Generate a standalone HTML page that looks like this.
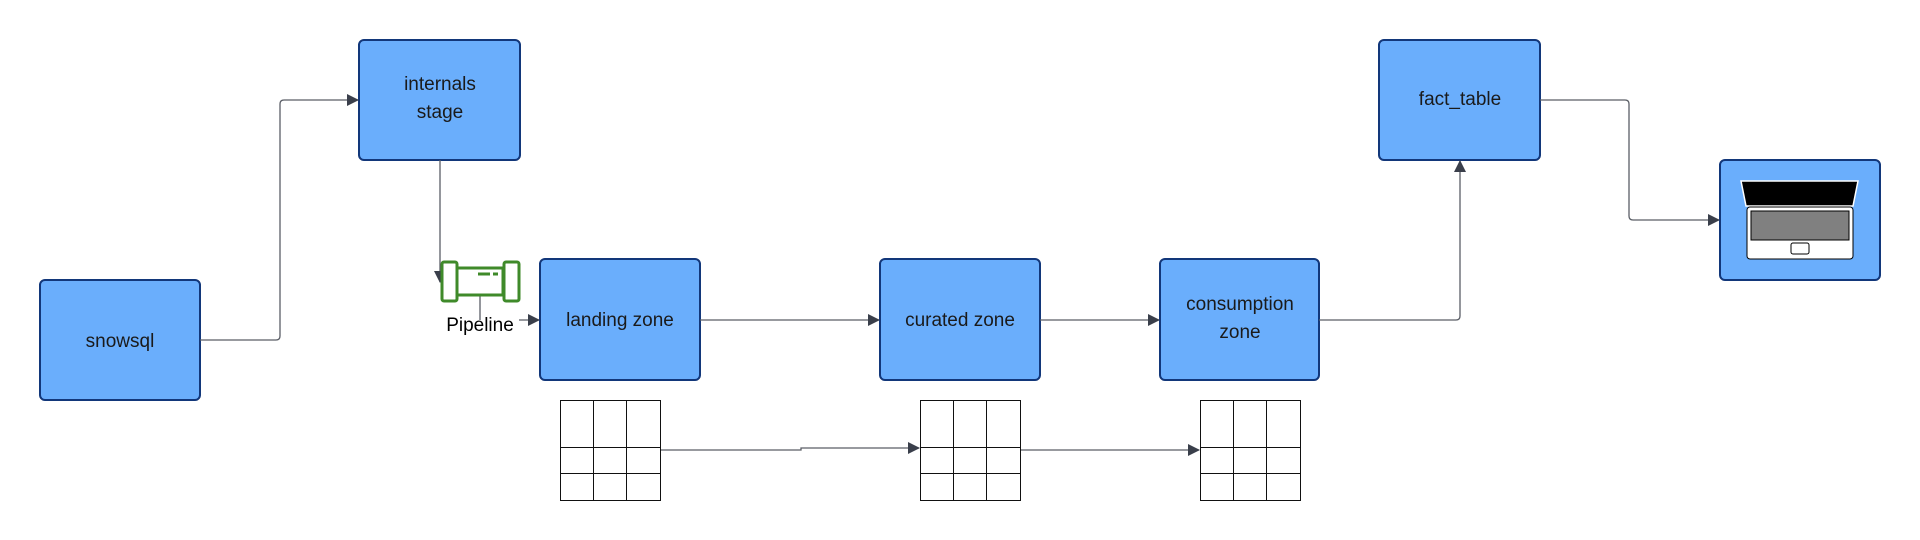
<!DOCTYPE html>
<html><head><meta charset="utf-8"><style>
html,body{margin:0;padding:0;background:#fff;}
svg{display:block;}
text{font-family:"Liberation Sans",sans-serif;font-size:19px;fill:#1a1a1a;}
</style></head><body>
<svg width="1920" height="540" viewBox="0 0 1920 540">
<defs>
<marker id="a" markerWidth="12" markerHeight="12" refX="11" refY="6" orient="auto" markerUnits="userSpaceOnUse">
<path d="M0,0 L12,6 L0,12 z" fill="#3a3f4b"/></marker>
</defs>
<g fill="#6aaefc" stroke="#12377a" stroke-width="2">
<rect x="40" y="280" width="160" height="120" rx="5"/>
<rect x="359" y="40" width="161" height="120" rx="5"/>
<rect x="540" y="259" width="160" height="121" rx="5"/>
<rect x="880" y="259" width="160" height="121" rx="5"/>
<rect x="1160" y="259" width="159" height="121" rx="5"/>
<rect x="1379" y="40" width="161" height="120" rx="5"/>
<rect x="1720" y="160" width="160" height="120" rx="5"/>
</g>
<g text-anchor="middle">
<text x="120" y="347">snowsql</text>
<text x="440" y="90">internals</text>
<text x="440" y="118">stage</text>
<text x="620" y="326">landing zone</text>
<text x="960" y="326">curated zone</text>
<text x="1240" y="310">consumption</text>
<text x="1240" y="338">zone</text>
<text x="1460" y="105">fact_table</text>
<text x="480" y="331" style="fill:#000">Pipeline</text>
</g>
<g fill="none" stroke="#5a5e66" stroke-width="1.3">
<path d="M200,340 H276 Q280,340 280,336 V104 Q280,100 284,100 H358" marker-end="url(#a)"/>
<path d="M440,160 V282" marker-end="url(#a)"/>
<path d="M480,295 V320"/>
<path d="M519,320 H539" marker-end="url(#a)"/>
<path d="M700,320 H879" marker-end="url(#a)"/>
<path d="M1040,320 H1159" marker-end="url(#a)"/>
<path d="M1319,320 H1456 Q1460,320 1460,316 V161" marker-end="url(#a)"/>
<path d="M1540,100 H1625 Q1629,100 1629,104 V216 Q1629,220 1633,220 H1719" marker-end="url(#a)"/>
<path d="M661,450 H801 V448 H919" marker-end="url(#a)"/>
<path d="M1021,450 H1199" marker-end="url(#a)"/>
</g>
<g fill="#fff" stroke="#3f8a2a" stroke-width="3">
<rect x="457" y="268" width="46" height="27"/>
<rect x="442" y="262" width="15" height="39" rx="2"/>
<rect x="504" y="262" width="15" height="39" rx="2"/>
<path d="M478,274 H490 M493,274 H498"/>
</g>
<g fill="#fff" stroke="#111" stroke-width="1">
<g id="t"><rect x="560.5" y="400.5" width="100" height="100"/>
<path d="M593.5,400 V500 M626.5,400 V500 M560,447.5 H661 M560,473.5 H661"/></g>
<use href="#t" x="360"/>
<use href="#t" x="640"/>
</g>
<path d="M1741,181 H1858 L1853,206 H1746 Z" fill="#000" stroke="#fff" stroke-width="1.5"/>
<rect x="1747" y="207" width="106" height="52" rx="3" fill="#fff" stroke="#000" stroke-width="1"/>
<rect x="1751" y="211" width="98" height="29" fill="#808080" stroke="#000" stroke-width="1"/>
<rect x="1791" y="243" width="18" height="11" rx="2" fill="#fff" stroke="#000" stroke-width="1"/>
</svg>
</body></html>
